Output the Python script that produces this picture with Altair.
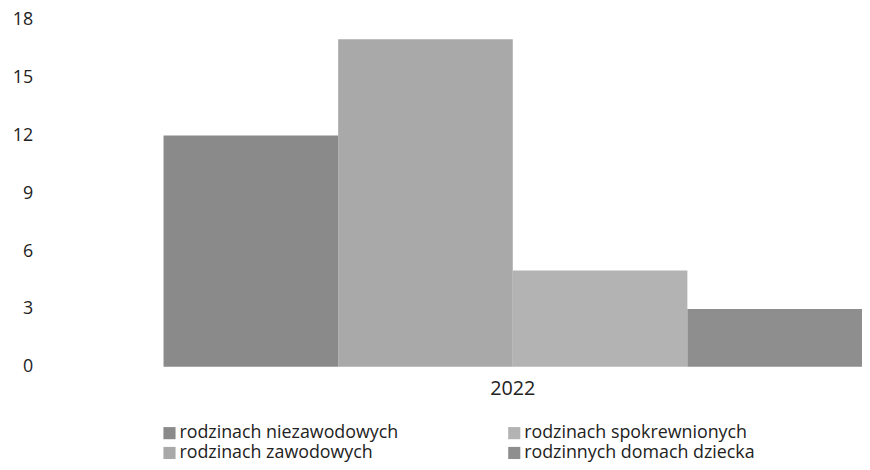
import altair as alt
import pandas as pd

years = ["2022"]
series = [
    "rodzinach niezawodowych",
    "rodzinach zawodowych",
    "rodzinach spokrewnionych",
    "rodzinnych domach dziecka",
]
values = [12, 17, 5, 3]
y_ticks = [0, 3, 6, 9, 12, 15, 18]
colors = ["#8a8a8a", "#a9a9a9", "#b3b3b3", "#8e8e8e"]

df = pd.DataFrame({
    "year": [years[0]] * len(series),
    "series": series,
    "value": values,
})

FONT = "Open Sans"
TXT = "#222222"

chart = alt.Chart(df).mark_bar().encode(
    x=alt.X("year:N", title=None,
            scale=alt.Scale(paddingInner=0, paddingOuter=0),
            axis=alt.Axis(labelAngle=0, domain=False, ticks=False, labelPadding=12,
                          labelFont=FONT, labelFontSize=20, labelColor=TXT)),
    xOffset=alt.XOffset("series:N", sort=series,
                        scale=alt.Scale(paddingInner=0, paddingOuter=0)),
    y=alt.Y("value:Q", title=None,
            scale=alt.Scale(domain=[0, 18], nice=False),
            axis=alt.Axis(values=y_ticks, grid=False, domain=False, ticks=False,
                          offset=128, labelPadding=4,
                          labelFont=FONT, labelFontSize=18, labelColor=TXT)),
    color=alt.Color("series:N",
                    scale=alt.Scale(domain=series, range=colors),
                    legend=alt.Legend(title=None, orient="none", legendX=-3, legendY=408,
                                      columns=2, columnPadding=108, rowPadding=2,
                                      symbolType="square", symbolSize=150,
                                      symbolStrokeWidth=0, labelOffset=1, labelLimit=0,
                                      labelFont=FONT, labelFontSize=18, labelColor=TXT)),
).properties(
    width=705, height=350,
    autosize=alt.AutoSizeParams(type="none"),
    padding={"left": 157, "top": 10, "right": 0, "bottom": 96},
).configure_view(stroke=None)

chart.save("out.html", embed_options={"renderer": "svg", "actions": False})
